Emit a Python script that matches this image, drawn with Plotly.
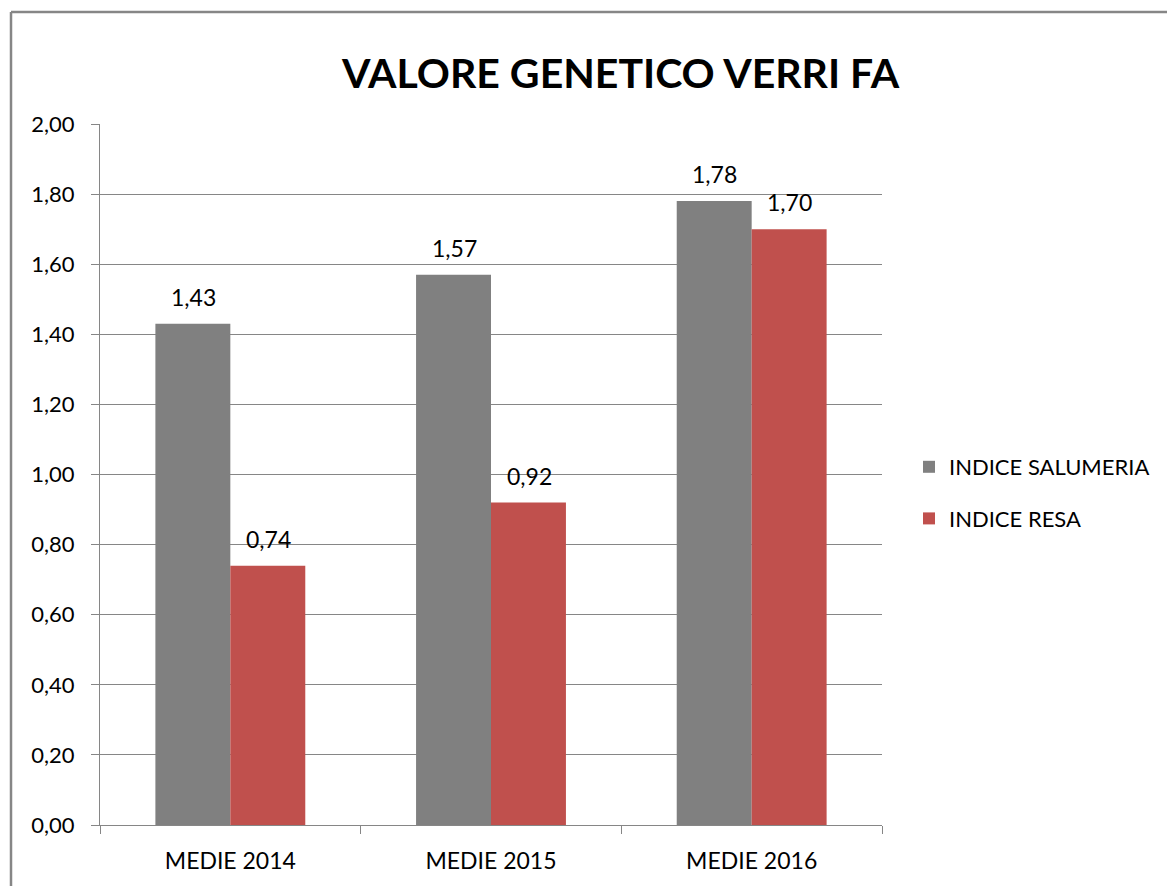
import plotly.graph_objects as go

categories = ["MEDIE 2014", "MEDIE 2015", "MEDIE 2016"]
salumeria = [1.43, 1.57, 1.78]
resa = [0.74, 0.92, 1.70]
series_names = ["INDICE SALUMERIA", "INDICE RESA"]
y_ticks = [0.0, 0.2, 0.4, 0.6, 0.8, 1.0, 1.2, 1.4, 1.6, 1.8, 2.0]

FONT = "Lato"
GRID = "#868686"

W, H = 1167, 886
L, T, R_, B = 100, 124, 882, 825  # plot area in page px
PW, PH = R_ - L, B - T

fig = go.Figure()
fig.add_trace(go.Bar(x=categories, y=salumeria, name=series_names[0],
                     marker=dict(color="#808080", line=dict(width=0)),
                     legendgroup="a"))
fig.add_trace(go.Bar(x=categories, y=resa, name=series_names[1],
                     marker=dict(color="#C0504D", line=dict(width=0)),
                     legendgroup="b"))

def fmt(v):
    return f"{v:.2f}".replace(".", ",")

annotations = []
for series, shift in ((salumeria, -37), (resa, 38)):
    for c, v in zip(categories, series):
        annotations.append(dict(x=c, y=v, xref="x", yref="y", text=fmt(v),
                                showarrow=False, xshift=shift, yshift=11,
                                yanchor="bottom",
                                font=dict(family=FONT, size=23, color="#000")))

annotations.append(dict(text="<b>VALORE GENETICO VERRI FA</b>", xref="paper", yref="paper",
                        x=(620 - L) / PW, y=(B - 72) / PH, showarrow=False,
                        xanchor="center", yanchor="middle",
                        font=dict(family=FONT, size=41, color="#000")))

fig.update_layout(
    width=W, height=H,
    margin=dict(l=L, r=W - R_, t=T, b=H - B),
    paper_bgcolor="white", plot_bgcolor="white",
    separators=",.",
    barmode="group", bargap=0.425, bargroupgap=0,
    font=dict(family=FONT, size=22, color="#000"),
    showlegend=True,
    legend=dict(x=(909 - L) / PW, y=(B - 493) / PH, xanchor="left", yanchor="middle",
                font=dict(family=FONT, size=22, color="#000"),
                tracegroupgap=20, bgcolor="rgba(0,0,0,0)"),
    annotations=annotations,
    shapes=[
        dict(type="line", xref="paper", yref="paper",
             x0=(11 - L) / PW, x1=(W + 5 - L) / PW, y0=(B - 12) / PH, y1=(B - 12) / PH,
             line=dict(color=GRID, width=2.5), layer="below"),
        dict(type="line", xref="paper", yref="paper",
             x0=(11 - L) / PW, x1=(11 - L) / PW, y0=(B - H - 5) / PH, y1=(B - 12) / PH,
             line=dict(color=GRID, width=2.5), layer="below"),
    ],
)

fig.update_yaxes(range=[0, 2.0], tickvals=y_ticks, tickformat=".2f",
                 showgrid=True, gridcolor=GRID, gridwidth=1,
                 showline=True, linecolor=GRID, linewidth=1,
                 ticks="outside", ticklen=8, tickcolor=GRID,
                 ticklabelstandoff=12,
                 tickfont=dict(family=FONT, size=22, color="#000"),
                 zeroline=False)
fig.update_xaxes(showline=True, linecolor=GRID, linewidth=1,
                 ticks="outside", ticklen=8, tickcolor=GRID,
                 tickson="boundaries", showgrid=False,
                 ticklabelstandoff=15,
                 tickfont=dict(family=FONT, size=23, color="#000"))

fig.write_html(
    "out.html",
    config={"displayModeBar": False},
    post_script="document.body.style.margin='0';"
                "document.documentElement.style.overflow='hidden';"
                "document.body.style.overflow='hidden';",
)
